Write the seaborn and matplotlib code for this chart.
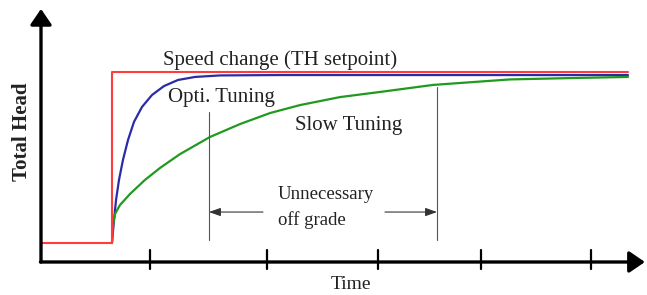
import matplotlib
matplotlib.use("Agg")
import matplotlib.pyplot as plt
import seaborn as sns

# time axis units: tick marks sit near 1..5, step change near 0.65
red_t = [0.0, 0.645, 0.645, 5.336]
red_h = [0.10, 0.10, 1.00, 1.00]

blue_t = [0.645, 0.664, 0.682, 0.709, 0.745, 0.791, 0.845, 0.918, 1.009,
          1.118, 1.245, 1.40, 1.627, 2.17, 5.336]
blue_h = [0.100, 0.221, 0.326, 0.432, 0.537, 0.642, 0.737, 0.816, 0.879,
          0.926, 0.958, 0.974, 0.982, 0.984, 0.984]

green_t = [0.645, 0.655, 0.673, 0.718, 0.809, 0.945, 1.082, 1.264, 1.536,
           1.809, 2.082, 2.355, 2.718, 3.082, 3.564, 4.264, 4.809, 5.336]
green_h = [0.100, 0.195, 0.253, 0.300, 0.358, 0.432, 0.495, 0.568, 0.658,
           0.726, 0.784, 0.826, 0.868, 0.895, 0.932, 0.961, 0.968, 0.974]

tick_t = [0.99, 2.05, 3.06, 4.0, 5.0]
offgrade_t = [1.527, 3.60]      # start / end of the unnecessary off-grade span
offgrade_top = [0.789, 0.921]   # where the guide lines meet the slow curve

sns.set_style("white")
plt.rcParams['font.family'] = ['Liberation Serif', 'DejaVu Serif']

fig = plt.figure(figsize=(6.47, 2.95), dpi=100)
ax = fig.add_axes([0, 0, 1, 1])
ax.set_xlim(-0.3727, 5.509)
ax.set_ylim(-0.1737, 1.379)
ax.axis('off')

sns.lineplot(x=blue_t, y=blue_h, ax=ax, color='#2b2ba6', lw=1.6,
             sort=False, estimator=None)
sns.lineplot(x=green_t, y=green_h, ax=ax, color='#1f9a1f', lw=1.6,
             sort=False, estimator=None)
sns.lineplot(x=red_t, y=red_h, ax=ax, color='#ff3b3b', lw=1.5,
             sort=False, estimator=None)

# axes with arrow heads
big = dict(arrowstyle='-|>,head_length=0.95,head_width=0.65', lw=2.4,
           color='black', mutation_scale=10, shrinkA=0, shrinkB=0)
ax.annotate('', xy=(0, 1.332), xytext=(0, 0), arrowprops=big)
ax.annotate('', xy=(5.49, 0), xytext=(-0.005, 0), arrowprops=big)
for t in tick_t:
    ax.plot([t, t], [-0.037, 0.063], color='black', lw=1.6)

# off-grade guide lines and arrows
for t, top in zip(offgrade_t, offgrade_top):
    ax.plot([t, t], [0.115, top], color='#555555', lw=0.8)
small = dict(arrowstyle='-|>,head_length=0.7,head_width=0.25', lw=0.8,
             color='#333333', mutation_scale=10, shrinkA=0, shrinkB=0)
ax.annotate('', xy=(offgrade_t[0], 0.263), xytext=(2.018, 0.263), arrowprops=small)
ax.annotate('', xy=(offgrade_t[1], 0.263), xytext=(3.127, 0.263), arrowprops=small)

tc = '#222222'
ax.text(2.173, 1.063, 'Speed change (TH setpoint)', ha='center', va='center',
        fontsize=15, color=tc)
ax.text(1.155, 0.868, 'Opti. Tuning', ha='left', va='center', fontsize=15, color=tc)
ax.text(2.309, 0.721, 'Slow Tuning', ha='left', va='center', fontsize=15, color=tc)
ax.text(2.155, 0.353, 'Unnecessary', ha='left', va='center', fontsize=13.5, color=tc)
ax.text(2.155, 0.221, 'off grade', ha='left', va='center', fontsize=13.5, color=tc)
ax.text(2.818, -0.118, 'Time', ha='center', va='center', fontsize=14, color=tc)
ax.text(-0.173, 0.684, 'Total Head', ha='center', va='center', rotation=90,
        fontsize=15, fontweight='bold', color=tc)

fig.savefig('out.png', dpi=100)
